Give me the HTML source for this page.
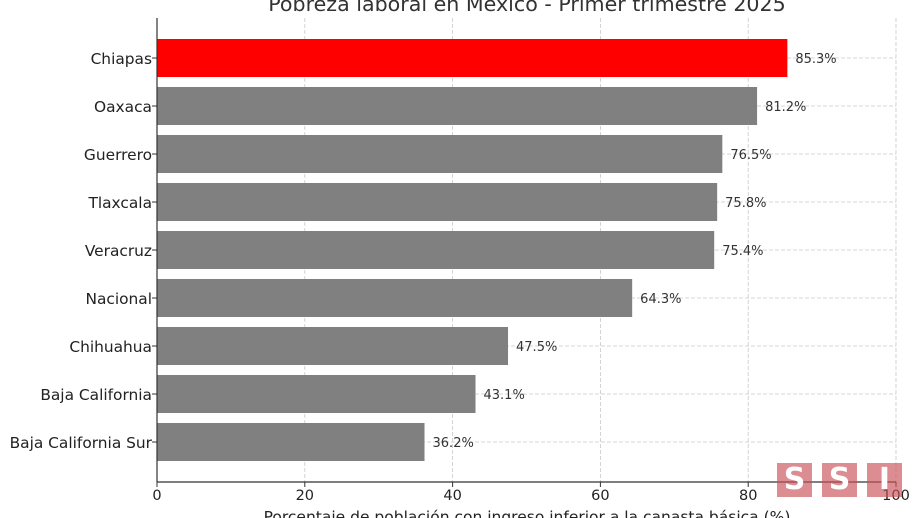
<!DOCTYPE html>
<html><head><meta charset="utf-8"><style>
body{margin:0;background:#fff;width:920px;height:518px;overflow:hidden;font-family:"Liberation Sans","DejaVu Sans",sans-serif}
.logo{position:absolute;top:463px;width:35px;height:34px;background:rgba(200,80,88,0.65);color:#fff;font-weight:bold;font-size:30px;text-align:center;line-height:34px;font-family:"DejaVu Sans",sans-serif}
</style></head><body>
<svg id="chart" width="920" height="518" style="position:absolute;left:0;top:0" font-family="DejaVu Sans, Liberation Sans, sans-serif">
<text x="527" y="11" text-anchor="middle" font-size="20.6" fill="#333">Pobreza laboral en México - Primer trimestre 2025</text>
<g id="grid"></g><g id="bars"></g><g id="labels"></g><g id="axes"></g>
<text x="527" y="522" text-anchor="middle" font-size="15.5" fill="#222">Porcentaje de población con ingreso inferior a la canasta básica (%)</text>
</svg>
<div class="logo" style="left:777px">S</div>
<div class="logo" style="left:822px">S</div>
<div class="logo" style="left:867px">I</div>
<script>
const categories=["Chiapas","Oaxaca","Guerrero","Tlaxcala","Veracruz","Nacional","Chihuahua","Baja California","Baja California Sur"];
const values=[85.3,81.2,76.5,75.8,75.4,64.3,47.5,43.1,36.2];
const ticks=[0,20,40,60,80,100];
const NS="http://www.w3.org/2000/svg";
const px0=157,px1=896,pTop=18,pBottom=482,pitch=48,firstC=58,bh=38;
const X=v=>px0+(v/100)*(px1-px0);
const Y=i=>firstC+i*pitch;
function mk(t,a,p){const e=document.createElementNS(NS,t);for(const k in a)e.setAttribute(k,a[k]);p.appendChild(e);return e;}
const g=document.getElementById('grid'),b=document.getElementById('bars'),l=document.getElementById('labels'),ax=document.getElementById('axes');
ticks.forEach(t=>{
 const ln=mk('line',{x1:X(t),x2:X(t),y1:pTop,y2:pBottom,stroke:'#c8c8c8','stroke-dasharray':'4,2','stroke-width':0.8},g);
 
 
 mk('line',{x1:X(t),x2:X(t),y1:pBottom,y2:pBottom+5,stroke:'#333'},ax);
 const tx=mk('text',{x:X(t),y:pBottom+18,'text-anchor':'middle','font-size':14.5,fill:'#222'},ax);tx.textContent=t;
 
 
});
categories.forEach((c,i)=>{
 const yc=Y(i);
 const gl=mk('line',{x1:px0,x2:px1,y1:yc,y2:yc,stroke:'#c8c8c8','stroke-dasharray':'4,2','stroke-width':0.8},g);
 
 
 const r=mk('rect',{x:px0,y:yc-bh/2,width:X(values[i])-px0,height:bh,fill:i===0?'#ff0000':'#808080'},b);
 
 
 const v=mk('text',{x:X(values[i])+8,y:yc+5,'font-size':13,fill:'#333'},l);v.textContent=values[i].toFixed(1)+'%';
 
 
 mk('line',{x1:px0-5,x2:px0,y1:yc,y2:yc,stroke:'#333'},ax);
 const cl=mk('text',{x:px0-5,y:yc+6,'text-anchor':'end','font-size':15.4,fill:'#222'},ax);cl.textContent=c;
 
 
});
mk('line',{x1:px0,x2:px0,y1:pTop,y2:pBottom,stroke:'#333','stroke-width':1.2},ax);
mk('line',{x1:px0,x2:px1,y1:pBottom,y2:pBottom,stroke:'#333','stroke-width':1.2},ax);
</script>
</body></html>
